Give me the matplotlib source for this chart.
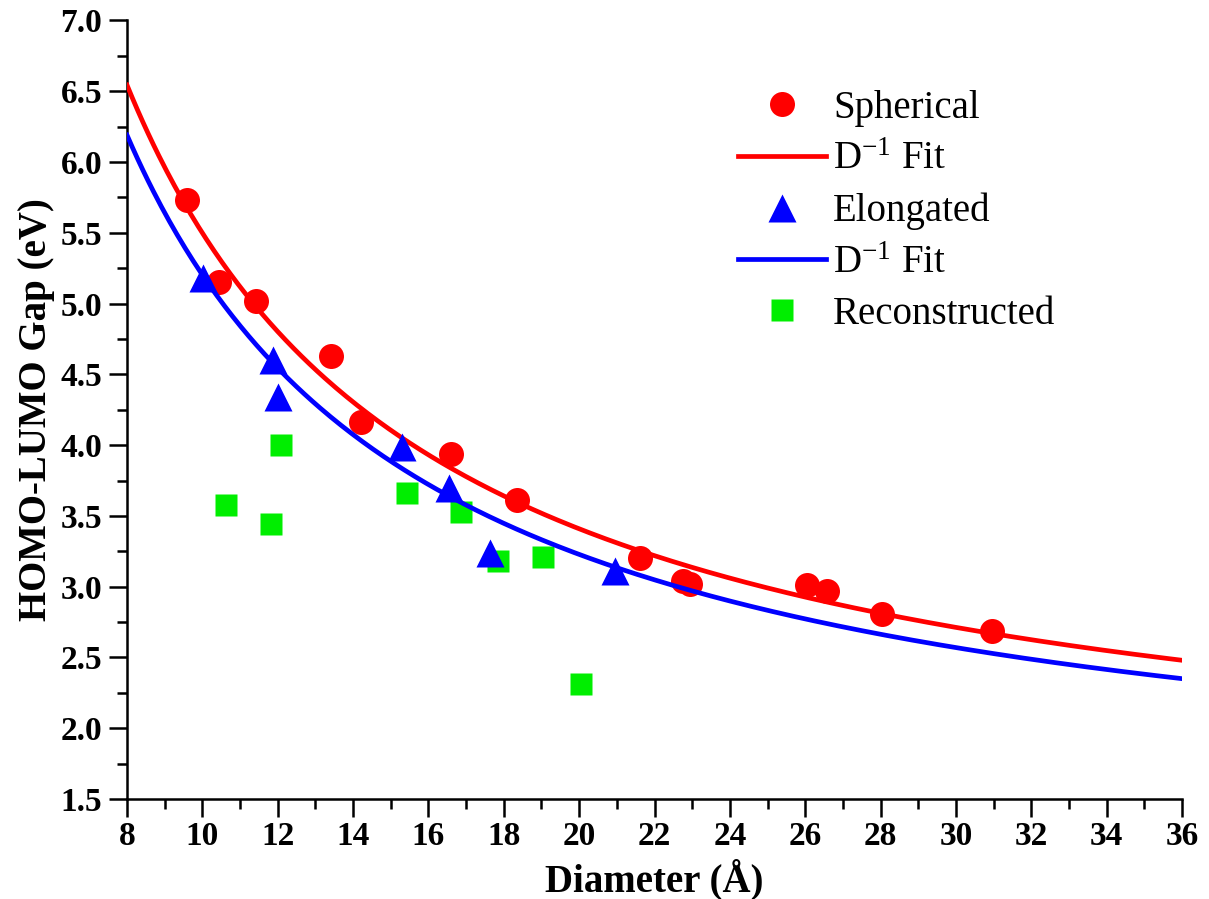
import numpy as np
import matplotlib
matplotlib.use("Agg")
import matplotlib.pyplot as plt

# ---- data ----
sph_x = [9.58, 10.45, 11.42, 13.42, 14.21, 16.59, 18.34, 21.61, 22.75, 22.95, 26.04, 26.57, 28.05, 30.95]
sph_y = [5.73, 5.15, 5.02, 4.63, 4.16, 3.94, 3.61, 3.20, 3.04, 3.02, 3.01, 2.97, 2.81, 2.69]

elo_x = [10.01, 11.87, 12.00, 15.29, 16.55, 17.63, 20.95]
elo_y = [5.18, 4.60, 4.34, 3.99, 3.70, 3.24, 3.11]

rec_x = [10.63, 11.82, 12.09, 15.44, 16.86, 17.85, 19.03, 20.04]
rec_y = [3.58, 3.44, 4.00, 3.66, 3.53, 3.18, 3.21, 2.31]

# D^-1 fit parameters: Eg = a + b / D
sph_fit_a, sph_fit_b = 1.319, 41.8
elo_fit_a, elo_fit_b = 1.253, 39.5

xticks = list(range(8, 37, 2))
yticks = [1.5, 2.0, 2.5, 3.0, 3.5, 4.0, 4.5, 5.0, 5.5, 6.0, 6.5, 7.0]

plt.rcParams['font.family'] = ['Liberation Serif', 'DejaVu Serif']
plt.rcParams['mathtext.default'] = 'regular'

fig = plt.figure(figsize=(12.09, 8.99), dpi=100)
ax = fig.add_axes([127/1209, 1-799/899, (1182-127)/1209, (799-20.5)/899])

D = np.linspace(8, 36, 400)
RED, BLUE, GREEN = '#ff0000', '#0000ff', '#00ee00'

h_rec, = ax.plot(rec_x, rec_y, 's', color=GREEN, ms=15.5, mec='none', zorder=2, label='Reconstructed')
h_sph, = ax.plot(sph_x, sph_y, 'o', color=RED, ms=18, mec='none', zorder=3, label='Spherical')
h_sfit, = ax.plot(D, sph_fit_a + sph_fit_b / D, '-', color=RED, lw=3.4, zorder=4, label='D$^{-1}$ Fit')
h_elo, = ax.plot(elo_x, elo_y, '^', color=BLUE, ms=20, mec='none', zorder=5, label='Elongated')
h_efit, = ax.plot(D, elo_fit_a + elo_fit_b / D, '-', color=BLUE, lw=3.4, zorder=6, label='D$^{-1}$ Fit')

ax.set_xlim(8, 36)
ax.set_ylim(1.5, 7.0)
ax.set_xticks(xticks)
ax.set_yticks(yticks)
ax.set_yticklabels([f"{v:.1f}" for v in yticks])
ax.set_xticks(np.arange(9, 36, 2), minor=True)
ax.set_yticks(np.arange(1.75, 7.0, 0.5), minor=True)

for s in ['top', 'right']:
    ax.spines[s].set_visible(False)
for s in ['left', 'bottom']:
    ax.spines[s].set_linewidth(1.8)

ax.tick_params(which='major', direction='out', length=13, width=1.8, labelsize=24)
ax.tick_params(axis='x', which='major', pad=3)
ax.tick_params(axis='y', which='major', pad=5)
ax.tick_params(which='minor', direction='out', length=7, width=1.8)
for lab in ax.get_xticklabels() + ax.get_yticklabels():
    lab.set_fontweight('bold')

ax.set_xlabel('Diameter (Å)', fontsize=28, fontweight='bold', labelpad=5)
ax.set_ylabel('HOMO-LUMO Gap (eV)', fontsize=28, fontweight='bold', labelpad=4)

leg = ax.legend(handles=[h_sph, h_sfit, h_elo, h_efit, h_rec],
                loc='upper left', bbox_to_anchor=((738-127)/1055, 1-(90-20.5)/778),
                frameon=False, fontsize=28, handlelength=2.26, handletextpad=0.18,
                labelspacing=0.37, borderpad=0, borderaxespad=0, numpoints=1)

fig.savefig('out.png', dpi=100)
